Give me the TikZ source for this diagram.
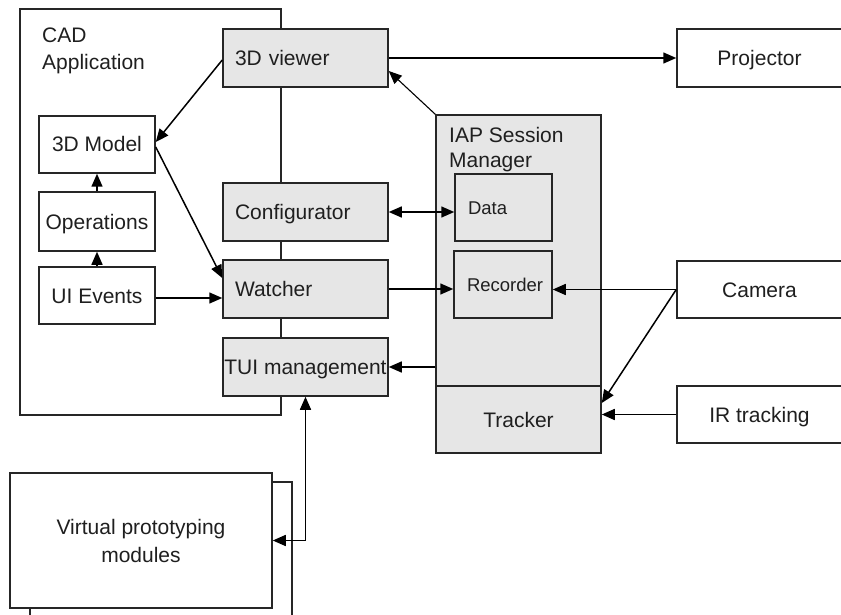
\documentclass[tikz,border=0pt]{standalone}
\usepackage{fontspec}
\setmainfont{Liberation Sans}
\usetikzlibrary{arrows.meta,calc}
\definecolor{boxgray}{HTML}{E6E6E6}
\definecolor{edgec}{HTML}{262626}
\begin{document}
\begin{tikzpicture}[x=1pt,y=-1pt,
  every node/.style={font=\fontsize{21}{27}\selectfont, text=black!88},
  base/.style={draw=edgec, line width=1.5pt, fill=white, rectangle, inner sep=0pt},
  oneline/.style={base, text height=15pt, text depth=0pt},
  grey/.style={oneline, fill=boxgray},
  leftin/.style={text width=#1, align=left, inner xsep=12pt},
  smallleft/.style={font=\fontsize{18.5}{22}\selectfont, text width=#1, align=left, inner xsep=13pt, text height=13.5pt, text depth=0pt},
  arr/.style={draw=black, line width=1.5pt, -{Triangle[length=13pt,width=11pt]}},
  darr/.style={draw=black, line width=1.5pt, {Triangle[length=13pt,width=11pt]}-{Triangle[length=13pt,width=11pt]}},
  ]
\useasboundingbox (0,0) rectangle (841,615);
\clip (0,0) rectangle (841,615);

% containers
\node[base, fill=none, minimum width=261pt, minimum height=406pt] (cad) at (150.5,212) {};
\node[anchor=north west, align=left, inner sep=0pt] (cadlabel) at (42,28) {CAD\\Application};
\node[base, fill=none, minimum width=262pt, minimum height=135pt] (vpmshadow) at (161,549.5) {};
\node[base, minimum width=262pt, minimum height=135pt, align=center, font=\fontsize{21}{28}\selectfont] (vpm) at (141,540.5) {Virtual prototyping\\modules};

% CAD internals
\node[oneline, minimum width=116pt, minimum height=57pt] (model) at (97,144.5) {3D Model};
\node[oneline, minimum width=116pt, minimum height=59pt] (ops) at (97,221.5) {Operations};
\node[oneline, minimum width=116pt, minimum height=57pt] (ui) at (97,295.5) {UI Events};

% grey column
\node[grey, leftin=141pt, minimum height=58pt] (viewer) at (305.5,58) {3D viewer};
\node[grey, leftin=141pt, minimum height=58pt] (conf) at (305.5,212) {Configurator};
\node[grey, leftin=141pt, minimum height=58pt] (watch) at (305.5,289) {Watcher};
\node[grey, minimum width=165pt, minimum height=58pt] (tui) at (305.5,367) {TUI management};

% IAP session manager
\node[base, fill=boxgray, minimum width=165pt, minimum height=338pt] (iap) at (518.5,284) {};
\node[anchor=north west, align=left, inner sep=0pt, font=\fontsize{21}{25}\selectfont] (iaplabel) at (449,127) {IAP Session\\Manager};
\node[grey, minimum width=165pt, minimum height=67pt] (tracker) at (518.5,419.5) {Tracker};
\node[base, fill=boxgray, smallleft=71pt, minimum height=67pt] (data) at (503.5,207.5) {Data};
\node[base, fill=boxgray, smallleft=72pt, minimum height=67pt] (rec) at (503,284.5) {Recorder};

% right column
\node[oneline, minimum width=165pt, minimum height=58pt] (proj) at (759.5,58) {Projector};
\node[oneline, minimum width=165pt, minimum height=57pt] (cam) at (759.5,289.5) {Camera};
\node[oneline, minimum width=165pt, minimum height=57pt] (ir) at (759.5,414.5) {IR tracking};

% connectors
\draw[arr] ([yshift=-2pt]viewer.west) -- ([yshift=2.5pt]model.east);
\draw[arr] ([yshift=-2.5pt]model.east) -- ([yshift=11pt]watch.west);
\draw[arr] (ops.north) -- (model.south);
\draw[arr] (ui.north) -- (ops.south);
\draw[arr] ([yshift=-2.5pt]ui.east) -- ([yshift=-2.5pt]ui.east -| watch.west);
\draw[arr] (viewer.east) -- (proj.west);
\draw[arr, line width=1.1pt] (iap.north west) -- ([yshift=-13pt]viewer.east);
\draw[darr] (conf.east) -- (conf.east -| data.west);
\draw[arr] (watch.east) -- (watch.east -| rec.west);
\draw[arr] (cam.west) -- (cam.west -| rec.east);
\draw[arr] (cam.west) -- ([yshift=16.5pt]tracker.east);
\draw[arr] (ir.west) -- (ir.west -| tracker.east);
\draw[arr] (tui.east -| iap.west) -- (tui.east);
\draw[darr] (tui.south) |- (vpm.east);
\end{tikzpicture}
\end{document}
